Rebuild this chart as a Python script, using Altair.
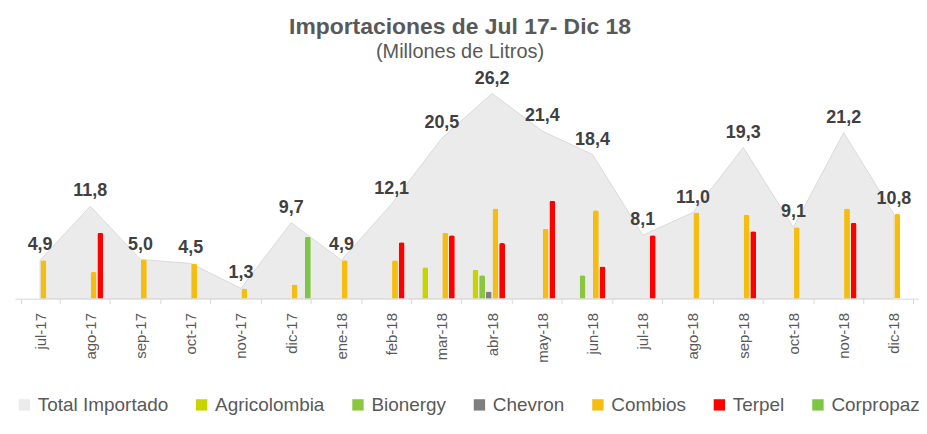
import altair as alt
import pandas as pd

months = ["jul-17", "ago-17", "sep-17", "oct-17", "nov-17", "dic-17", "ene-18", "feb-18", "mar-18",
          "abr-18", "may-18", "jun-18", "jul-18", "ago-18", "sep-18", "oct-18", "nov-18", "dic-18"]
total = [4.9, 11.8, 5.0, 4.5, 1.3, 9.7, 4.9, 12.1, 20.5, 26.2, 21.4, 18.4, 8.1, 11.0, 19.3, 9.1, 21.2, 10.8]

agricolombia = [0, 0, 0, 0, 0, 0, 0, 0, 4.0, 3.7, 0, 0, 0, 0, 0, 0, 0, 0]
bionergy = [0, 0, 0, 0, 0, 0, 0, 0, 0, 3.0, 0, 3.0, 0, 0, 0, 0, 0, 0]
chevron = [0, 0, 0, 0, 0, 0, 0, 0, 0, 0.9, 0, 0, 0, 0, 0, 0, 0, 0]
combios = [4.9, 3.4, 5.0, 4.5, 1.3, 1.8, 4.9, 4.9, 8.4, 11.5, 8.9, 11.3, 0, 11.0, 10.7, 9.1, 11.5, 10.8]
terpel = [0, 8.4, 0, 0, 0, 0, 0, 7.2, 8.1, 7.1, 12.5, 4.1, 8.1, 0, 8.6, 0, 9.7, 0]
corpropaz = [0, 0, 0, 0, 0, 7.9, 0, 0, 0, 0, 0, 0, 0, 0, 0, 0, 0, 0]

series_names = ["Agricolombia", "Bionergy", "Chevron", "Combios", "Terpel", "Corpropaz"]
series_values = [agricolombia, bionergy, chevron, combios, terpel, corpropaz]

legend_domain = ["Total Importado"] + series_names
legend_range = ["#ebebeb", "#c8d400", "#8cc63f", "#7f7f7f", "#f5bd0f", "#ff0000", "#7dc545"]

total_df = pd.DataFrame({"mes": months, "valor": total, "serie": ["Total Importado"] * len(months)})
rows = []
for name, vals in zip(series_names, series_values):
    for m, v in zip(months, vals):
        if v > 0:
            rows.append({"mes": m, "serie": name, "valor": v})
bars_df = pd.DataFrame(rows)

FONT = "Liberation Sans"

x = alt.X(
    "mes:N",
    sort=months,
    scale=alt.Scale(domain=months, paddingInner=0.22, paddingOuter=0.11),
    axis=alt.Axis(
        title=None, labelAngle=-90, labelFontSize=15, labelColor="#595959", labelFont=FONT,
        labelPadding=9, tickBand="extent", tickColor="#d9d9d9", tickSize=5,
        domainColor="#d9d9d9", grid=False,
    ),
)
y = alt.Y("valor:Q", scale=alt.Scale(domain=[0, 29.5], nice=False), axis=None)
color = alt.Color(
    "serie:N",
    scale=alt.Scale(domain=legend_domain, range=legend_range),
    legend=alt.Legend(
        title=None, orient="bottom", direction="horizontal", symbolType="square",
        symbolSize=130, symbolStrokeWidth=0, labelFontSize=19, labelColor="#595959",
        labelFont=FONT, columnPadding=24, offset=32, labelOffset=4, labelLimit=300,
    ),
)

area = alt.Chart(total_df).mark_area(stroke="#dadada", strokeWidth=1, fillOpacity=1).encode(
    x=x, y=y, color=color
)

bars = alt.Chart(bars_df).mark_bar(cornerRadiusTopLeft=2, cornerRadiusTopRight=2).encode(
    x=x,
    xOffset=alt.XOffset("serie:N", scale=alt.Scale(domain=series_names, paddingInner=0.12)),
    y=y,
    color=color,
)

labels = alt.Chart(total_df).transform_calculate(
    lab="replace(format(datum.valor, '.1f'), '.', ',')"
).mark_text(
    dy=-6, baseline="bottom", fontSize=18, fontWeight="bold", color="#404040", font=FONT
).encode(x=x, y=y, text="lab:N")

chart = alt.layer(area, bars, labels).properties(
    width=915,
    height=408,
    autosize=alt.AutoSizeParams(type="fit", contains="padding"),
    title=alt.TitleParams(
        "Importaciones de Jul 17- Dic 18",
        subtitle="(Millones de Litros)",
        fontSize=23, subtitleFontSize=20, font=FONT, subtitleFont=FONT,
        fontWeight="bold", color="#595959", subtitleColor="#595959",
        anchor="middle", offset=6, subtitlePadding=3, dx=-7,
    ),
    padding={"left": 0, "top": 7, "right": 0, "bottom": 0},
    background="white",
).configure_view(stroke=None)

chart.save("out.html", embed_options={"renderer": "svg", "actions": False})
